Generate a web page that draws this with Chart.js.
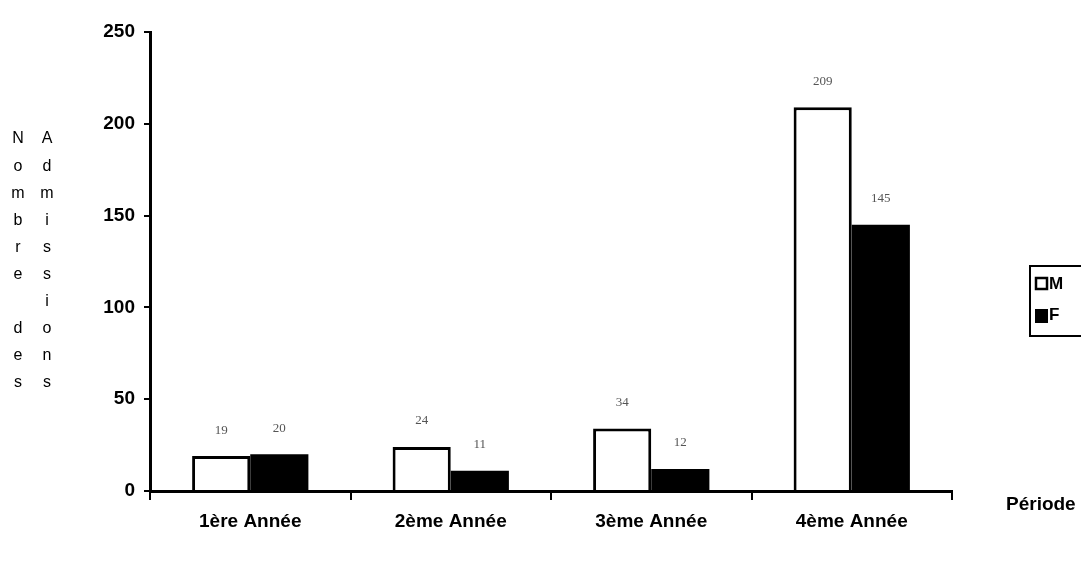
<!DOCTYPE html>
<html>
<head>
<meta charset="utf-8">
<script src="https://cdn.jsdelivr.net/npm/chart.js@4/dist/chart.umd.min.js"></script>
<style>
  html, body { margin:0; padding:0; background:#fff; }
  #wrap { width:1081px; height:564px; }
</style>
</head>
<body>
<div id="wrap"><canvas id="chart" width="1081" height="564"></canvas></div>
<script>
const categories = ["1ère Année", "2ème Année", "3ème Année", "4ème Année"];
const seriesM = [19, 24, 34, 209];
const seriesF = [20, 11, 12, 145];
const yTicks = [0, 50, 100, 150, 200, 250];
const yTitleLeft = "Nombre des";
const yTitleRight = "Admissions";
const xTitle = "Période";

const FONT = "'Liberation Sans', Arial, sans-serif";

// labels above bars, stacked-letter y title, x title and boxed legend
const extras = {
  id: "extras",
  afterDraw(chart) {
    const ctx = chart.ctx;
    ctx.save();

    // value labels
    ctx.font = "13px 'Liberation Serif', serif";
    ctx.fillStyle = "#555";
    ctx.textAlign = "center";
    ctx.textBaseline = "middle";
    chart.data.datasets.forEach((ds, i) => {
      chart.getDatasetMeta(i).data.forEach((bar, j) => {
        ctx.fillText(String(ds.data[j]), bar.x, bar.y - 26);
      });
    });

    // y title, one letter per row
    ctx.font = "16px " + FONT;
    ctx.fillStyle = "#000";
    [...yTitleLeft].forEach((ch, k) => ctx.fillText(ch, 18, 139 + k * 27.1));
    [...yTitleRight].forEach((ch, k) => ctx.fillText(ch, 47, 139 + k * 27.1));

    // x title
    ctx.font = "bold 19px " + FONT;
    ctx.textAlign = "left";
    ctx.fillText(xTitle, 1006, 505);

    // legend box
    ctx.strokeStyle = "#000";
    ctx.lineWidth = 2;
    ctx.strokeRect(1030, 266, 80, 70);
    ctx.font = "bold 17px " + FONT;
    chart.data.datasets.forEach((ds, i) => {
      const y = 278 + i * 31;
      if (i === 0) {
        ctx.fillStyle = "#fff";
        ctx.fillRect(1036, y, 11, 11);
        ctx.lineWidth = 2.5;
        ctx.strokeRect(1036, y, 11, 11);
      } else {
        ctx.fillStyle = "#000";
        ctx.fillRect(1035, y, 13, 14);
      }
      ctx.fillStyle = "#000";
      ctx.fillText(ds.label, 1049, y + 6);
    });

    ctx.restore();
  }
};

new Chart(document.getElementById("chart"), {
  type: "bar",
  data: {
    labels: categories,
    datasets: [
      { label: "M", data: seriesM, backgroundColor: "#fff", borderColor: "#000", borderWidth: 3 },
      { label: "F", data: seriesF, backgroundColor: "#000", borderColor: "#000", borderWidth: 0 }
    ]
  },
  options: {
    responsive: false,
    animation: false,
    categoryPercentage: 0.58,
    barPercentage: 1,
    layout: { padding: { top: 32, right: 129, left: 0, bottom: 0 } },
    plugins: { legend: { display: false }, tooltip: { enabled: false } },
    scales: {
      x: {
        grid: { offset: true, drawOnChartArea: false, drawTicks: true, tickLength: 9, color: "#000", lineWidth: 2 },
        border: { display: true, color: "#000", width: 3 },
        ticks: { color: "#000", font: { family: FONT, size: 19, weight: "bold" }, padding: 10 },
        afterFit: (s) => { s.height = 73; }
      },
      y: {
        min: yTicks[0],
        max: yTicks[yTicks.length - 1],
        afterBuildTicks: (s) => { s.ticks = yTicks.map(v => ({ value: v })); },
        grid: { drawOnChartArea: false, drawTicks: true, tickLength: 6, color: "#000", lineWidth: 2 },
        border: { display: true, color: "#000", width: 3 },
        ticks: { color: "#000", font: { family: FONT, size: 19, weight: "bold" }, padding: 9 },
        afterFit: (s) => { s.width = 150; }
      }
    }
  },
  plugins: [extras]
});
</script>
</body>
</html>
